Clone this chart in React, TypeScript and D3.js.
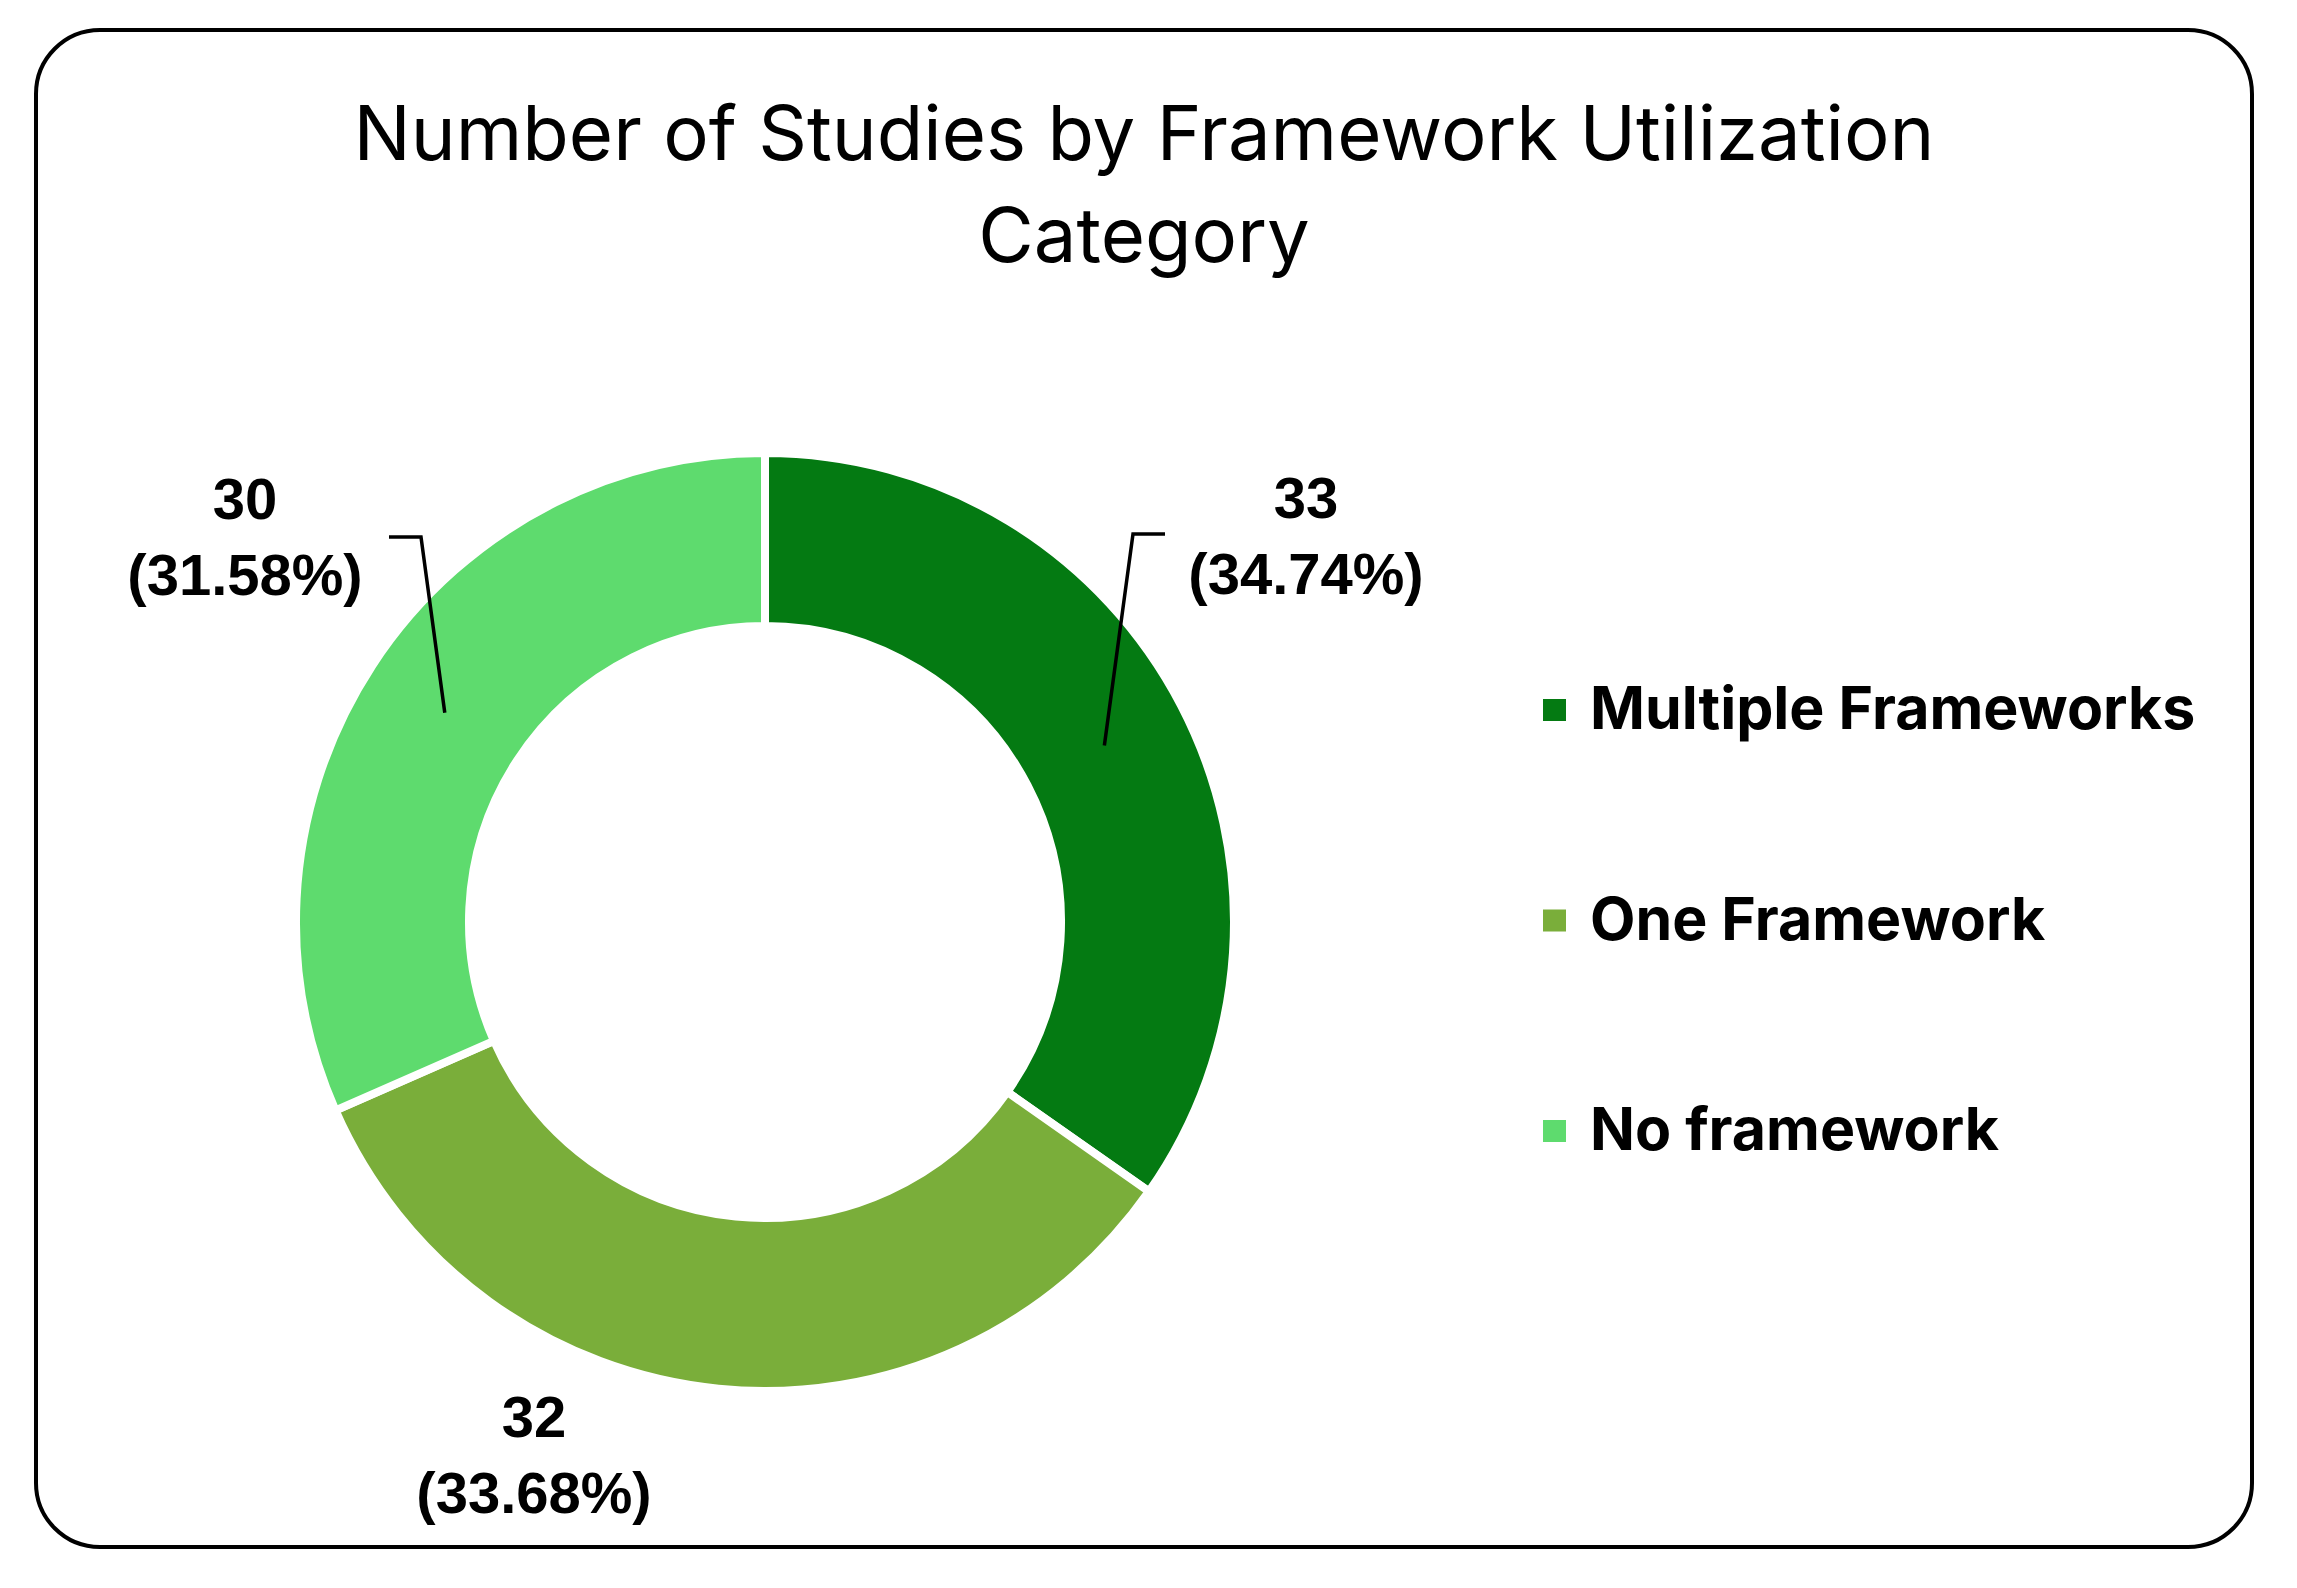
import { useMemo } from "react";
import { pie, arc } from "d3";

const categories = ["Multiple Frameworks", "One Framework", "No framework"];
const counts = [33, 32, 30];
const percentLabels = ["34.74%", "33.68%", "31.58%"];
const colors = ["#047A12", "#7AAE3A", "#5EDB6E"];

// label placement relative to donut centre (line-1 baseline)
const labelOffsets: [number, number][] = [
  [541, -404],
  [-231, 515],
  [-520, -403],
];
// leader elbow & end relative to centre, null = no leader
const leaderPoints: ([number, number][] | null)[] = [
  [[368, -388], [400, -388]],
  null,
  [[-344, -385], [-376, -385]],
];

const W = 2297;
const H = 1588;
const cx = 765;
const cy = 922;
const outerR = 469;
const innerR = 296;

export default function App() {
  const slices = useMemo(
    () => pie<number>().sort(null).value((d) => d)(counts),
    []
  );
  const arcGen = arc<any>().innerRadius(innerR).outerRadius(outerR);
  const midArc = arc<any>()
    .innerRadius((innerR + outerR) / 2)
    .outerRadius((innerR + outerR) / 2);

  return (
    <svg
      width={W}
      height={H}
      style={{ position: "absolute", left: 0, top: 0, background: "#fff" }}
    >
      <rect
        x={36}
        y={30}
        width={2216}
        height={1517}
        rx={64}
        ry={64}
        fill="#fff"
        stroke="#000"
        strokeWidth={4}
      />
      <text
        x={1144}
        y={160}
        textAnchor="middle"
        fontFamily="Inter, sans-serif"
        fontSize={76}
        fill="#000"
      >
        Number of Studies by Framework Utilization
      </text>
      <text
        x={1144}
        y={262}
        textAnchor="middle"
        fontFamily="Inter, sans-serif"
        fontSize={76}
        fill="#000"
      >
        Category
      </text>

      <g transform={`translate(${cx},${cy})`}>
        {slices.map((s, i) => (
          <path
            key={categories[i]}
            d={arcGen(s) as string}
            fill={colors[i]}
            stroke="#fff"
            strokeWidth={8}
          />
        ))}
        {slices.map((s, i) => {
          const pts = leaderPoints[i];
          if (!pts) return null;
          const [mx, my] = midArc.centroid(s);
          return (
            <polyline
              key={"l" + i}
              points={[[mx, my], ...pts].map((p) => p.join(",")).join(" ")}
              fill="none"
              stroke="#000"
              strokeWidth={3.5}
            />
          );
        })}
        {slices.map((s, i) => {
          const [dx, dy] = labelOffsets[i];
          return (
            <text
              key={"t" + i}
              x={dx}
              y={dy}
              textAnchor="middle"
              fontFamily="'Liberation Sans', Arial, sans-serif"
              fontWeight="bold"
              fontSize={58}
              fill="#000"
            >
              <tspan x={dx}>{counts[i]}</tspan>
              <tspan x={dx} dy={76}>
                ({percentLabels[i]})
              </tspan>
            </text>
          );
        })}
      </g>

      <g>
        {categories.map((c, i) => (
          <g key={c} transform={`translate(1543,${710 + i * 210.5})`}>
            <rect x={0} y={-11} width={23} height={22} fill={colors[i]} />
            <text
              x={47}
              y={19}
              fontFamily="Inter, sans-serif"
              fontWeight="bold"
              fontSize={59}
              fill="#000"
            >
              {c}
            </text>
          </g>
        ))}
      </g>
    </svg>
  );
}
